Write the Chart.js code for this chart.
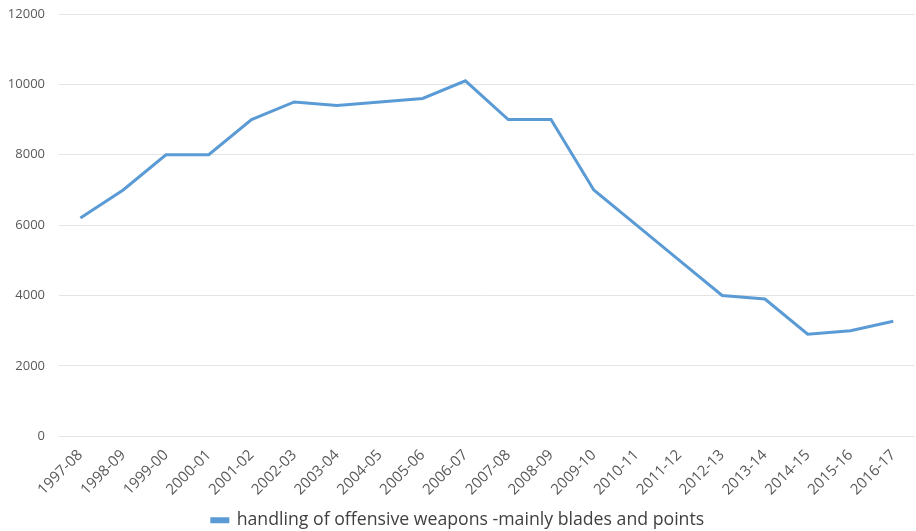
<!DOCTYPE html>
<html>
<head>
<meta charset="utf-8">
<script src="https://cdn.jsdelivr.net/npm/chart.js@4"></script>
<style>
  html, body { margin: 0; padding: 0; background: #fff; }
  #wrap { width: 916px; height: 531px; }
</style>
</head>
<body>
<div id="wrap"><canvas id="chart"></canvas></div>
<script>
const years = ['1997-08', '1998-09', '1999-00', '2000-01', '2001-02', '2002-03', '2003-04',
    '2004-05', '2005-06', '2006-07', '2007-08', '2008-09', '2009-10', '2010-11', '2011-12',
    '2012-13', '2013-14', '2014-15', '2015-16', '2016-17'];
const offences = [6200, 7000, 8000, 8000, 9000, 9500, 9400, 9500, 9600, 10100, 9000, 9000,
    7000, 6000, 5000, 4000, 3900, 2900, 3000, 3270];
const seriesName = 'handling of offensive weapons -mainly blades and points';

const ctx = document.getElementById('chart').getContext('2d');
new Chart(ctx, {
    type: 'line',
    data: {
        labels: years,
        datasets: [{
            label: seriesName,
            data: offences,
            borderColor: '#5b9bd5',
            backgroundColor: '#5b9bd5',
            borderWidth: 3,
            pointRadius: 0,
            tension: 0,
            fill: false
        }]
    },
    options: {
        responsive: true,
        maintainAspectRatio: false,
        animation: false,
        layout: {
            padding: { top: 14, right: 0, left: 0, bottom: -8 }
        },
        plugins: {
            legend: {
                position: 'bottom',
                labels: {
                    boxWidth: 16,
                    boxHeight: 3,
                    padding: 2,
                    color: '#404040',
                    font: { family: 'Open Sans', size: 17.7 }
                }
            },
            tooltip: { enabled: false }
        },
        scales: {
            x: {
                offset: true,
                grid: { display: false, drawTicks: false },
                border: { display: false },
                ticks: {
                    color: '#595959',
                    font: { family: 'Open Sans', size: 15 },
                    maxRotation: 45,
                    minRotation: 45,
                    padding: 10,
                    autoSkip: false
                },
                afterFit: scale => { scale.height = 73; }
            },
            y: {
                min: 0,
                max: 12000,
                grid: { color: '#e4e4e4', lineWidth: 1, drawTicks: false },
                border: { display: false },
                ticks: {
                    stepSize: 2000,
                    color: '#595959',
                    font: { family: 'Open Sans', size: 13 },
                    padding: 14,
                    callback: value => String(value)
                },
                afterFit: scale => {
                    scale.width = 59;
                    scale.paddingTop = 0;
                }
            }
        }
    }
});
</script>
</body>
</html>
